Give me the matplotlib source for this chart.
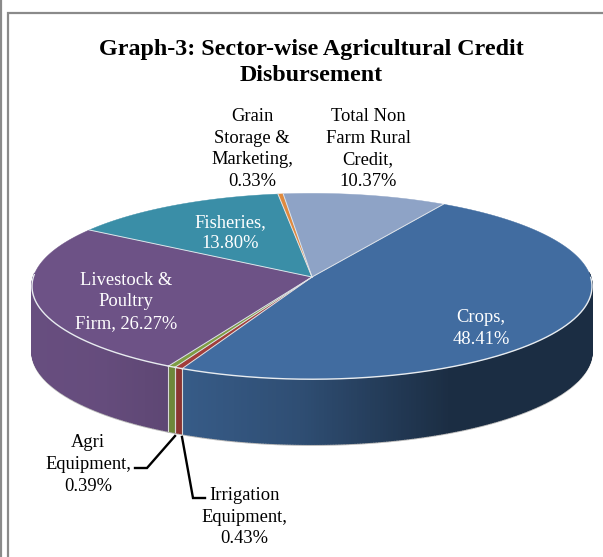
import numpy as np
import matplotlib
matplotlib.use('Agg')
import matplotlib.pyplot as plt
from matplotlib.patches import Polygon, Rectangle
from matplotlib.colors import to_rgb

# Slices, clockwise from the first one
labels = ['Crops,\n', 'Irrigation\nEquipment,\n', 'Agri\nEquipment,\n',
          'Livestock &\nPoultry\nFirm, ', 'Fisheries,\n',
          'Grain\nStorage &\nMarketing,\n', 'Total Non\nFarm Rural\nCredit,\n']
values = [48.41, 0.43, 0.39, 26.27, 13.80, 0.33, 10.37]
colors = ['#416ca0', '#a33d3a', '#7f9d43', '#6d5286', '#3a8ea7', '#e08a3e', '#8ea3c6']
text_colors = ['white', 'black', 'black', 'white', 'white', 'black', 'black']
label_pos = [(481, 328.5), (244, 517), (88, 464.5), (126, 302), (230, 233), (252, 149), (368, 149)]

# Pie geometry in pixels
APEX_X, APEX_Y = 312, 277
SX, SY = 278.6, 92
K = 0.1  # perspective
DEPTH = 65
START = 30.8


def project(angle):
    a = np.radians(angle)
    u, v = np.sin(a), -np.cos(a)
    w = 1 - K * v
    return APEX_X + SX * u / w, APEX_Y + SY * v / w


def wall_shade(x):
    return np.interp(x, [30, 100, 180, 300, 400, 450, 590], [0.95, 0.93, 0.85, 0.72, 0.52, 0.42, 0.42])


def arc(i):
    angles = np.arange(edges[i], edges[i + 1], 0.5)
    return np.append(angles, edges[i + 1])


plt.rcParams['font.family'] = ['Liberation Serif', 'DejaVu Serif']
fig = plt.figure(figsize=(6.03, 5.57), dpi=100)
ax = fig.add_axes([0, 0, 1, 1])
ax.set_xlim(0, 603)
ax.set_ylim(557, 0)
ax.axis('off')

# chart frame
ax.add_patch(Rectangle((8, 12.5), 700, 700, fc='white', ec='#8a8a8a', lw=1.6))
ax.plot([0.5, 0.5], [0, 557], color='#8a8a8a', lw=1.6)

edges = START + np.cumsum([0] + values) * 3.6

# side wall, only the part facing the viewer
for i in range(len(values)):
    angles = arc(i)
    x, y = project(angles)
    y2 = y + DEPTH
    for j in range(len(x) - 1):
        if angles[j] < 87 or angles[j + 1] > 273:
            continue
        col = np.array(to_rgb(colors[i])) * wall_shade(x[j])
        ax.add_patch(Polygon([(x[j], y[j]), (x[j + 1], y[j + 1]), (x[j + 1], y2[j + 1]), (x[j], y2[j])],
                             fc=col, ec=col, lw=1.0, zorder=2))
    if values[i] < 1:
        ax.plot([x[0], x[0]], [y[0], y2[0]], color='#d8d8d8', lw=0.8, zorder=3)
        ax.plot([x[-1], x[-1]], [y[-1], y2[-1]], color='#d8d8d8', lw=0.8, zorder=3)
    front = (angles > 95) & (angles < 272)
    if front.sum() > 1:
        ax.plot(x[front], y2[front] + 0.8, color='#b8b8b8', lw=1.3, zorder=1.5)

# top surface
for i in range(len(values)):
    x, y = project(arc(i))
    pts = [(APEX_X, APEX_Y)] + list(zip(x, y))
    ax.add_patch(Polygon(pts, closed=True, fc=colors[i], ec=colors[i], lw=0.3, zorder=4))
for i in range(len(values)):
    x, y = project(arc(i))
    ax.plot([APEX_X, x[0]], [APEX_Y, y[0]], color='#dfe4ea', lw=0.7, zorder=4.5)
    # only the front rim catches the light
    front = (arc(i) > 90) & (arc(i) < 272)
    if front.sum() > 1:
        ax.plot(x[front], y[front], color='#e8ecf0', lw=1.0, zorder=4.5)

# labels
for i in range(len(values)):
    ax.text(label_pos[i][0], label_pos[i][1], f'{labels[i]}{values[i]:.2f}%', color=text_colors[i],
            fontsize=13.3, ha='center', va='center', multialignment='center', linespacing=1.36, zorder=6)

# leader lines
ax.plot([135, 147, 175], [468, 468, 436], color='black', lw=1.7, zorder=5, solid_joinstyle='miter')
ax.plot([182, 193, 205], [437, 498, 498], color='black', lw=1.7, zorder=5, solid_joinstyle='miter')

ax.text(311, 62.5, 'Graph-3: Sector-wise Agricultural Credit\nDisbursement', fontsize=17.3, fontweight='bold',
        ha='center', va='center', multialignment='center', linespacing=1.33, zorder=6)

plt.savefig('out.png', dpi=100)
